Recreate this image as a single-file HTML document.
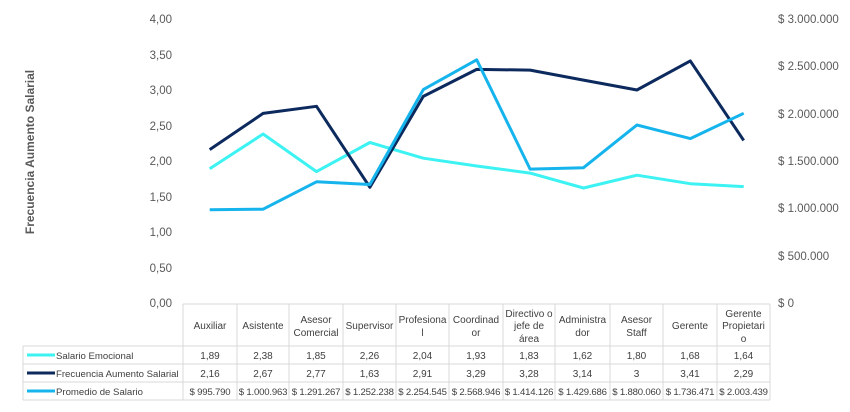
<!DOCTYPE html>
<html><head><meta charset="utf-8"><style>
html,body{margin:0;padding:0;background:#fff;}
svg{display:block;font-family:"Liberation Sans",sans-serif;}
</style></head><body>
<svg width="850" height="412" viewBox="0 0 850 412" xmlns="http://www.w3.org/2000/svg">
<rect width="850" height="412" fill="#fff"/>
<g font-size="11.5" fill="#595959" text-anchor="end">
<text x="172" y="23">4,00</text>
<text x="172" y="59">3,50</text>
<text x="172" y="94">3,00</text>
<text x="172" y="130">2,50</text>
<text x="172" y="165">2,00</text>
<text x="172" y="201">1,50</text>
<text x="172" y="236">1,00</text>
<text x="172" y="272">0,50</text>
<text x="172" y="307">0,00</text>
</g>
<g font-size="11.5" fill="#595959">
<text x="778" y="23">$ 3.000.000</text>
<text x="778" y="70">$ 2.500.000</text>
<text x="778" y="118">$ 2.000.000</text>
<text x="778" y="165">$ 1.500.000</text>
<text x="778" y="212">$ 1.000.000</text>
<text x="778" y="260">$ 500.000</text>
<text x="778" y="307">$ 0</text>
</g>
<text transform="translate(34,152) rotate(-90)" text-anchor="middle" font-size="12" font-weight="bold" fill="#595959">Frecuencia Aumento Salarial</text>
<g fill="none" stroke-width="3" stroke-linejoin="round">
<polyline stroke="#3DF2F2" points="209.7,168.8 263.1,134 316.5,171.6 369.9,142.5 423.3,158.2 476.7,166 530.1,173.1 583.5,188 636.9,175.2 690.3,183.7 743.7,186.6"/>
<polyline stroke="#0C2A5E" points="209.7,149.6 263.1,113.4 316.5,106.3 369.9,187.3 423.3,96.4 476.7,69.4 530.1,70.1 583.5,80.1 636.9,90 690.3,60.9 743.7,140.4"/>
<polyline stroke="#16B4EC" points="209.7,209.7 263.1,209.2 316.5,181.8 369.9,184.5 423.3,89.6 476.7,59.8 530.1,169.1 583.5,167.7 636.9,125 690.3,138.6 743.7,113.3"/>
</g>
<g stroke="#d9d9d9" stroke-width="1" fill="none">
<line x1="183" y1="304" x2="770" y2="304"/>
<line x1="23" y1="346" x2="770" y2="346"/>
<line x1="23" y1="364" x2="770" y2="364"/>
<line x1="23" y1="382" x2="770" y2="382"/>
<line x1="23" y1="400" x2="770" y2="400"/>
<line x1="23" y1="346" x2="23" y2="400"/>
<line x1="183" y1="304" x2="183" y2="400"/>
<line x1="237" y1="304" x2="237" y2="400"/>
<line x1="289" y1="304" x2="289" y2="400"/>
<line x1="343" y1="304" x2="343" y2="400"/>
<line x1="396" y1="304" x2="396" y2="400"/>
<line x1="449" y1="304" x2="449" y2="400"/>
<line x1="503" y1="304" x2="503" y2="400"/>
<line x1="555" y1="304" x2="555" y2="400"/>
<line x1="610" y1="304" x2="610" y2="400"/>
<line x1="663" y1="304" x2="663" y2="400"/>
<line x1="717" y1="304" x2="717" y2="400"/>
<line x1="770" y1="304" x2="770" y2="400"/>
</g>
<g font-size="10" fill="#404040" text-anchor="middle">
<text x="210" y="329">Auxiliar</text>
<text x="263" y="329">Asistente</text>
<text x="316" y="323">Asesor</text><text x="316" y="336">Comercial</text>
<text x="369.5" y="329">Supervisor</text>
<text x="422.5" y="323">Profesiona</text><text x="422.5" y="336">l</text>
<text x="476" y="323">Coordinad</text><text x="476" y="336">or</text>
<text x="529" y="317">Directivo o</text><text x="529" y="329">jefe de</text><text x="529" y="342">área</text>
<text x="582.5" y="323">Administra</text><text x="582.5" y="336">dor</text>
<text x="636.5" y="323">Asesor</text><text x="636.5" y="336">Staff</text>
<text x="690" y="329">Gerente</text>
<text x="743.5" y="317">Gerente</text><text x="743.5" y="329">Propietari</text><text x="743.5" y="342">o</text>
</g>
<g font-size="10" fill="#404040" text-anchor="middle">
<text x="210" y="359">1,89</text><text x="263" y="359">2,38</text><text x="316" y="359">1,85</text><text x="369.5" y="359">2,26</text><text x="422.5" y="359">2,04</text><text x="476" y="359">1,93</text><text x="529" y="359">1,83</text><text x="582.5" y="359">1,62</text><text x="636.5" y="359">1,80</text><text x="690" y="359">1,68</text><text x="743.5" y="359">1,64</text>
<text x="210" y="377">2,16</text><text x="263" y="377">2,67</text><text x="316" y="377">2,77</text><text x="369.5" y="377">1,63</text><text x="422.5" y="377">2,91</text><text x="476" y="377">3,29</text><text x="529" y="377">3,28</text><text x="582.5" y="377">3,14</text><text x="636.5" y="377">3</text><text x="690" y="377">3,41</text><text x="743.5" y="377">2,29</text>
</g>
<g font-size="9.6" fill="#404040" text-anchor="middle" letter-spacing="-0.2">
<text x="210" y="395">$ 995.790</text><text x="263" y="395">$ 1.000.963</text><text x="316" y="395">$ 1.291.267</text><text x="369.5" y="395">$ 1.252.238</text><text x="422.5" y="395">$ 2.254.545</text><text x="476" y="395">$ 2.568.946</text><text x="529" y="395">$ 1.414.126</text><text x="582.5" y="395">$ 1.429.686</text><text x="636.5" y="395">$ 1.880.060</text><text x="690" y="395">$ 1.736.471</text><text x="743.5" y="395">$ 2.003.439</text>
</g>
<g stroke-width="3">
<line x1="27" y1="355" x2="55" y2="355" stroke="#3DF2F2"/>
<line x1="27" y1="373" x2="55" y2="373" stroke="#0C2A5E"/>
<line x1="27" y1="391" x2="55" y2="391" stroke="#16B4EC"/>
</g>
<g font-size="9.6" fill="#404040">
<text x="56" y="359">Salario Emocional</text>
<text x="56" y="377">Frecuencia Aumento Salarial</text>
<text x="56" y="395">Promedio de Salario</text>
</g>
</svg>
</body></html>
